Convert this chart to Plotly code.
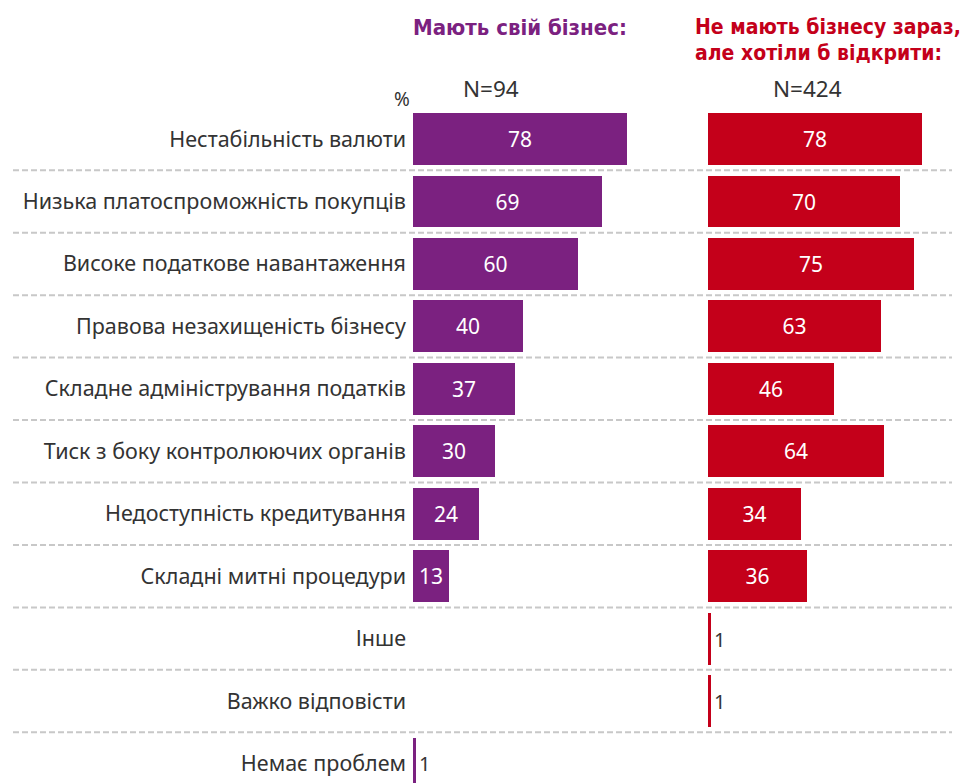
import plotly.graph_objects as go

categories = [
    "Нестабільність валюти",
    "Низька платоспроможність покупців",
    "Високе податкове навантаження",
    "Правова незахищеність бізнесу",
    "Складне адміністрування податків",
    "Тиск з боку контролюючих органів",
    "Недоступність кредитування",
    "Складні митні процедури",
    "Інше",
    "Важко відповісти",
    "Немає проблем",
]
have_business = [78, 69, 60, 40, 37, 30, 24, 13, None, None, 1]
want_business = [78, 70, 75, 63, 46, 64, 34, 36, 1, 1, None]

title_left = "Мають свій бізнес:"
title_right_1 = "Не мають бізнесу зараз,"
title_right_2 = "але хотіли б відкрити:"
n_left = "N=94"
n_right = "N=424"

PURPLE = "#7B2180"
RED = "#C4001A"
W, H = 975, 783
OX, OY = 8, 8  # page body margin offset
SCALE = 214 / 78.0  # px per percent
LABEL_FONT = "Noto Sans, DejaVu Sans, sans-serif"
TITLE_FONT = "Liberation Sans Narrow, DejaVu Sans Condensed, Arial Narrow, sans-serif"


def px(x):
    return (x - OX) / W


def py(y):
    return 1 - (y - OY) / H


fig = go.Figure()


def positions(vals):
    return ["inside" if (v is not None and v >= 5) else "outside" for v in vals]


def texts(vals):
    return ["" if v is None else str(v) for v in vals]


for vals, color, xa in [(have_business, PURPLE, "x"), (want_business, RED, "x2")]:
    fig.add_trace(go.Bar(
        y=categories, x=vals, orientation="h",
        marker=dict(color=color, line=dict(width=0)),
        width=0.83,
        text=texts(vals), textposition=positions(vals),
        insidetextanchor="middle",
        insidetextfont=dict(color="white", size=21, family=LABEL_FONT),
        outsidetextfont=dict(color="#333333", size=20, family=LABEL_FONT),
        constraintext="none", cliponaxis=False,
        xaxis=xa, yaxis="y", showlegend=False, hoverinfo="skip",
    ))

left0, left1 = 413, 700
right0, right1 = 708, 983
row0, pitch = 139.0, 62.45
y_top = -(row0 - OY) / pitch
y_bot = (H + OY - row0) / pitch

fig.update_layout(
    width=W, height=H,
    margin=dict(l=0, r=0, t=0, b=0, autoexpand=False),
    paper_bgcolor="white", plot_bgcolor="white",
    bargap=0,
    xaxis=dict(domain=[px(left0), px(left1)], range=[0, (left1 - left0) / SCALE],
               visible=False, fixedrange=True, automargin=False),
    xaxis2=dict(domain=[px(right0), min(1, px(right1))], range=[0, (right1 - right0) / SCALE],
                visible=False, fixedrange=True, automargin=False),
    yaxis=dict(type="category", categoryorder="array", categoryarray=categories,
               range=[y_bot, y_top], showgrid=False, zeroline=False, showline=False,
               ticks="", ticklabelstandoff=6, automargin=False,
               tickfont=dict(family=LABEL_FONT, size=21.5, color="#333333"),
               anchor="x"),
)

# dashed separators between rows
for i in range(len(categories) - 1):
    fig.add_shape(type="line", xref="paper", yref="y",
                  x0=px(13), x1=px(952), y0=i + 0.5, y1=i + 0.5,
                  line=dict(color="#C8C8C8", width=2, dash="6px,3px"),
                  layer="below")

anns = [
    dict(text=title_left, x=px(520), y=py(27), xanchor="center", yanchor="middle",
         font=dict(family=TITLE_FONT, size=22, color=PURPLE, weight="bold")),
    dict(text=title_right_1, x=px(693), y=py(27), xanchor="left", yanchor="middle",
         font=dict(family=TITLE_FONT, size=21, color=RED, weight="bold")),
    dict(text=title_right_2, x=px(693), y=py(53), xanchor="left", yanchor="middle",
         font=dict(family=TITLE_FONT, size=21, color=RED, weight="bold")),
    dict(text=n_left, x=px(491), y=py(88), xanchor="center", yanchor="middle",
         font=dict(family=LABEL_FONT, size=22.5, color="#333333")),
    dict(text=n_right, x=px(807), y=py(88), xanchor="center", yanchor="middle",
         font=dict(family=LABEL_FONT, size=22.5, color="#333333")),
    dict(text="%", x=px(402), y=py(99), xanchor="center", yanchor="middle",
         font=dict(family=LABEL_FONT, size=19, color="#333333")),
]
for a in anns:
    fig.add_annotation(xref="paper", yref="paper", showarrow=False, **a)

fig.write_html("out.html")
